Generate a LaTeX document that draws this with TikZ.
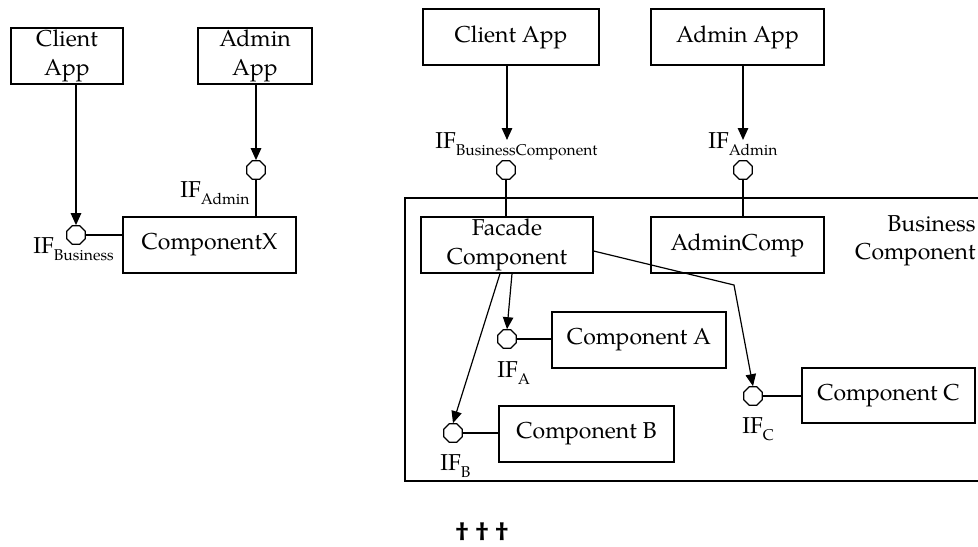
\documentclass[tikz,border=0pt]{standalone}
\usepackage{fontspec}
\setmainfont{TeX Gyre Pagella}
\usetikzlibrary{shapes.geometric,arrows.meta}
\tikzset{
  box/.style={draw, line width=0.6pt, inner sep=0pt, align=center, font=\fontsize{11.5}{14.5}\selectfont},
  iface/.style={draw, regular polygon, regular polygon sides=8, minimum size=10pt, inner sep=0pt, line width=0.6pt, fill=white},
  uses/.style={-{Triangle[length=6pt,width=5.2pt]}, line width=0.8pt},
  link/.style={line width=0.6pt},
  dep/.style={-{Triangle[length=6pt,width=5.2pt]}, line width=0.6pt},
  iflabel/.style={anchor=base west, inner sep=0pt, font=\fontsize{11.5}{14}\selectfont},
}
\newcommand{\ifsub}[1]{IF\raisebox{-3.5pt}{\fontsize{7.8}{8}\selectfont #1}}
\begin{document}
\begin{tikzpicture}[x=0.5pt, y=-0.5pt]
\useasboundingbox (0,0) rectangle (978,546);

% ---------- left diagram ----------
\node[box, minimum width=56pt, minimum height=28pt] (ca1) at (67,56) {Client\\App};
\node[box, minimum width=57pt, minimum height=28pt] (aa1) at (255,56) {Admin\\App};
\node[box, minimum width=86.5pt, minimum height=28pt] (cx) at (209.5,245) {ComponentX};
\node[iface] (ifb1) at (76,235) {};
\node[iface] (ifa1) at (256,170) {};
\draw[uses] (ca1.south -| ifb1) -- (ifb1.north);
\draw[uses] (aa1.south -| ifa1) -- (ifa1.north);
\draw[link] (ifb1.east) -- (ifb1 -| cx.west);
\draw[link] (ifa1.south) -- (ifa1 |- cx.north);
\node[iflabel] (lb1) at (33,253) {\ifsub{Business}};
\node[iflabel] (la1) at (180,197) {\ifsub{Admin}};

% ---------- right diagram ----------
\node[draw, line width=0.6pt, minimum width=292.5pt, minimum height=141.5pt, inner sep=0pt] (frame) at (697.5,339.5) {};
\node[anchor=north east, inner sep=0pt, align=right, font=\fontsize{11.5}{14}\selectfont] (bc) at (976,215) {Business\\Component};

\node[box, minimum width=88pt, minimum height=28pt] (ca2) at (511,37) {Client App};
\node[box, minimum width=86.5pt, minimum height=28pt] (aa2) at (737.5,37) {Admin App};
\node[box, minimum width=86pt, minimum height=28pt] (fc) at (507,245) {Facade\\Component};
\node[box, minimum width=86.5pt, minimum height=28pt] (ac) at (737.5,245) {AdminComp};
\node[box, minimum width=87pt, minimum height=28pt] (cpa) at (639,340) {Component A};
\node[box, minimum width=87.5pt, minimum height=28pt] (cpb) at (586.5,434) {Component B};
\node[box, minimum width=86.5pt, minimum height=27.5pt] (cpc) at (888.5,395.5) {Component C};

\node[iface] (ifbc) at (506,170) {};
\node[iface] (ifad) at (743,170) {};
\node[iface] (ifa) at (507,339) {};
\node[iface] (ifb) at (453,433) {};
\node[iface] (ifc) at (753,396) {};
\coordinate (bend) at (734,285);
\coordinate (tipbc) at (507,140);
\coordinate (tipad) at (743,140);

\draw[uses] (ca2.south -| tipbc) -- (tipbc);
\draw[uses] (aa2.south -| tipad) -- (tipad);
\draw[link] (ifbc.south) -- (ifbc |- fc.north);
\draw[link] (ifad.south) -- (ifad |- ac.north);

\draw[dep] ([xshift=2.5pt]fc.south) -- (ifa.north);
\draw[dep] ([xshift=-3.5pt]fc.south) -- (ifb.north);
\draw[dep] ([yshift=-3pt]fc.east) -- (bend) -- (ifc.north);

\draw[link] (ifa.east) -- (ifa -| cpa.west);
\draw[link] (ifb.east) -- (ifb -| cpb.west);
\draw[link] (ifc.east) -- (ifc -| cpc.west);

\node[iflabel] (lbc) at (435,148) {\ifsub{BusinessComponent}};
\node[iflabel] (lad) at (708,148) {\ifsub{Admin}};
\node[iflabel] (lia) at (497,377) {\ifsub{A}};
\node[iflabel] (lib) at (440,470) {\ifsub{B}};
\node[iflabel] (lic) at (742,433) {\ifsub{C}};

\node[font=\fontsize{13}{14}\bfseries\selectfont, inner sep=0pt, anchor=base] (dg) at (482,540) {†\hspace{3.5pt}†\hspace{3.5pt}†};
\end{tikzpicture}
\end{document}
